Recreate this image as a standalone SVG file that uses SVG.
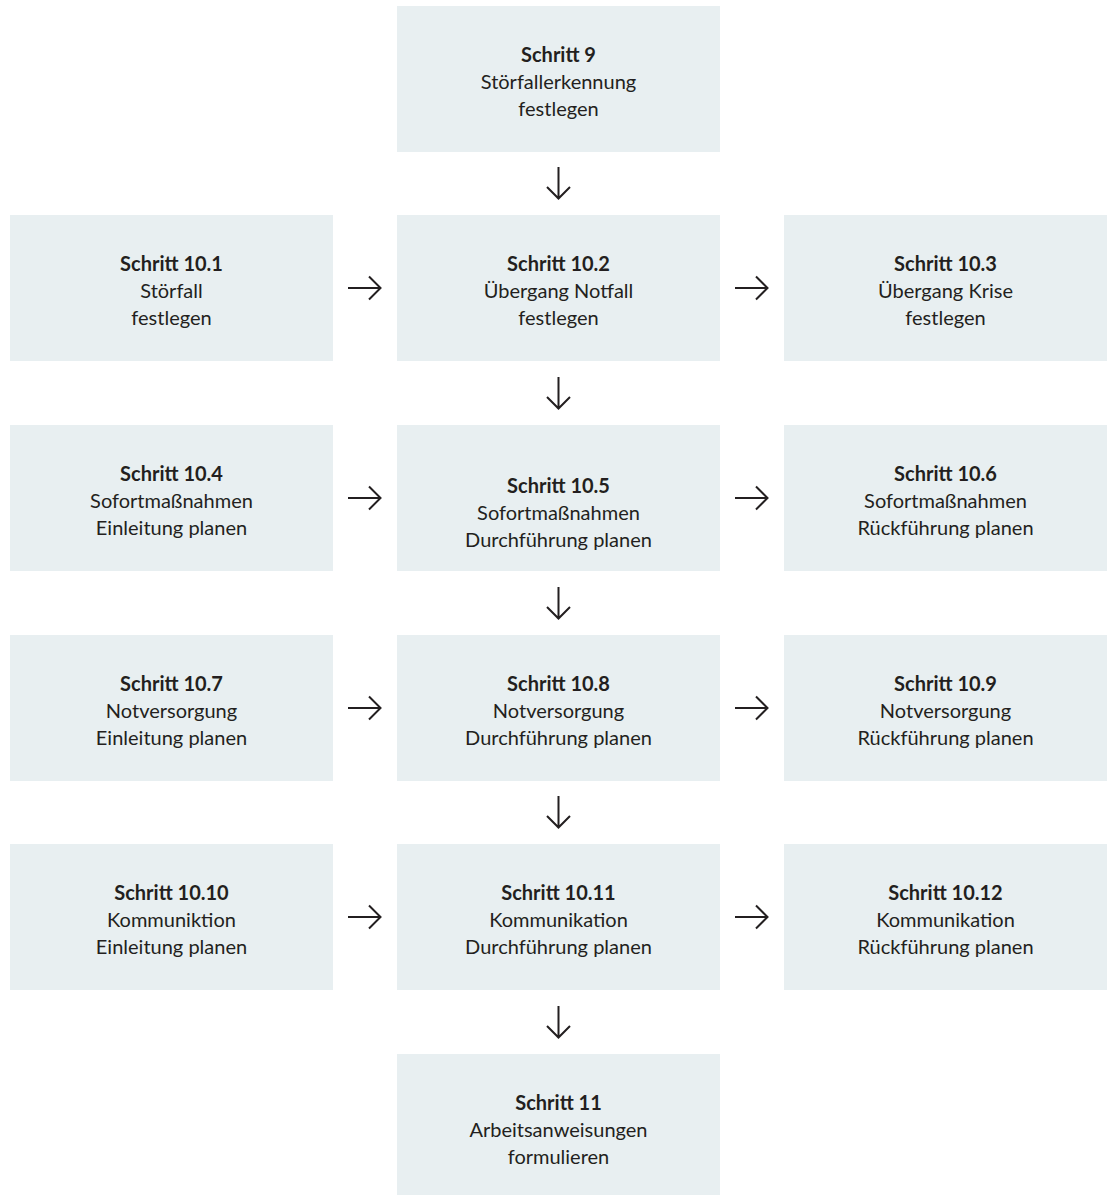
<svg xmlns="http://www.w3.org/2000/svg" width="1114" height="1195" viewBox="0 0 1114 1195">
  <defs>
    <style>
      .box { fill: #e8eff1; }
      .t { font-family: Lato, "Open Sans", sans-serif; font-size: 20px; fill: #231f20; text-anchor: middle; }
      .b { font-weight: 700; }
      .arr { fill: none; stroke: #231f20; stroke-width: 2; stroke-linecap: butt; stroke-linejoin: miter; }
    </style>
  </defs>
  <rect width="1114" height="1195" fill="#ffffff"/>

  <!-- Step 9 -->
  <g id="s9">
    <rect class="box" x="397" y="6" width="323" height="146"/>
    <text class="t b" x="558.5" y="62">Schritt 9</text>
    <text class="t" x="558.5" y="89">Störfallerkennung</text>
    <text class="t" x="558.5" y="116">festlegen</text>
  </g>

  <!-- Row 10.1 - 10.3 -->
  <g id="s10_1">
    <rect class="box" x="10" y="215" width="323" height="146"/>
    <text class="t b" x="171.5" y="271">Schritt 10.1</text>
    <text class="t" x="171.5" y="298">Störfall</text>
    <text class="t" x="171.5" y="325">festlegen</text>
  </g>
  <g id="s10_2">
    <rect class="box" x="397" y="215" width="323" height="146"/>
    <text class="t b" x="558.5" y="271">Schritt 10.2</text>
    <text class="t" x="558.5" y="298">Übergang Notfall</text>
    <text class="t" x="558.5" y="325">festlegen</text>
  </g>
  <g id="s10_3">
    <rect class="box" x="784" y="215" width="323" height="146"/>
    <text class="t b" x="945.5" y="271">Schritt 10.3</text>
    <text class="t" x="945.5" y="298">Übergang Krise</text>
    <text class="t" x="945.5" y="325">festlegen</text>
  </g>

  <!-- Row 10.4 - 10.6 -->
  <g id="s10_4">
    <rect class="box" x="10" y="425" width="323" height="146"/>
    <text class="t b" x="171.5" y="481">Schritt 10.4</text>
    <text class="t" x="171.5" y="508">Sofortmaßnahmen</text>
    <text class="t" x="171.5" y="535">Einleitung planen</text>
  </g>
  <g id="s10_5">
    <rect class="box" x="397" y="425" width="323" height="146"/>
    <text class="t b" x="558.5" y="493">Schritt 10.5</text>
    <text class="t" x="558.5" y="520">Sofortmaßnahmen</text>
    <text class="t" x="558.5" y="547">Durchführung planen</text>
  </g>
  <g id="s10_6">
    <rect class="box" x="784" y="425" width="323" height="146"/>
    <text class="t b" x="945.5" y="481">Schritt 10.6</text>
    <text class="t" x="945.5" y="508">Sofortmaßnahmen</text>
    <text class="t" x="945.5" y="535">Rückführung planen</text>
  </g>

  <!-- Row 10.7 - 10.9 -->
  <g id="s10_7">
    <rect class="box" x="10" y="635" width="323" height="146"/>
    <text class="t b" x="171.5" y="691">Schritt 10.7</text>
    <text class="t" x="171.5" y="718">Notversorgung</text>
    <text class="t" x="171.5" y="745">Einleitung planen</text>
  </g>
  <g id="s10_8">
    <rect class="box" x="397" y="635" width="323" height="146"/>
    <text class="t b" x="558.5" y="691">Schritt 10.8</text>
    <text class="t" x="558.5" y="718">Notversorgung</text>
    <text class="t" x="558.5" y="745">Durchführung planen</text>
  </g>
  <g id="s10_9">
    <rect class="box" x="784" y="635" width="323" height="146"/>
    <text class="t b" x="945.5" y="691">Schritt 10.9</text>
    <text class="t" x="945.5" y="718">Notversorgung</text>
    <text class="t" x="945.5" y="745">Rückführung planen</text>
  </g>

  <!-- Row 10.10 - 10.12 -->
  <g id="s10_10">
    <rect class="box" x="10" y="844" width="323" height="146"/>
    <text class="t b" x="171.5" y="900">Schritt 10.10</text>
    <text class="t" x="171.5" y="927">Kommuniktion</text>
    <text class="t" x="171.5" y="954">Einleitung planen</text>
  </g>
  <g id="s10_11">
    <rect class="box" x="397" y="844" width="323" height="146"/>
    <text class="t b" x="558.5" y="900">Schritt 10.11</text>
    <text class="t" x="558.5" y="927">Kommunikation</text>
    <text class="t" x="558.5" y="954">Durchführung planen</text>
  </g>
  <g id="s10_12">
    <rect class="box" x="784" y="844" width="323" height="146"/>
    <text class="t b" x="945.5" y="900">Schritt 10.12</text>
    <text class="t" x="945.5" y="927">Kommunikation</text>
    <text class="t" x="945.5" y="954">Rückführung planen</text>
  </g>

  <!-- Step 11 -->
  <g id="s11">
    <rect class="box" x="397" y="1054" width="323" height="146"/>
    <text class="t b" x="558.5" y="1110">Schritt 11</text>
    <text class="t" x="558.5" y="1137">Arbeitsanweisungen</text>
    <text class="t" x="558.5" y="1164">formulieren</text>
  </g>

  <!-- Connectors: open chevron arrows -->
  <g id="connectors" class="arr">
    <!-- vertical, centre column -->
    <path d="M558.5 167 V198 M547 187 L558.5 198.5 L570 187"/>
    <path d="M558.5 377 V408 M547 397 L558.5 408.5 L570 397"/>
    <path d="M558.5 587 V618 M547 607 L558.5 618.5 L570 607"/>
    <path d="M558.5 796 V827 M547 816 L558.5 827.5 L570 816"/>
    <path d="M558.5 1006 V1037 M547 1026 L558.5 1037.5 L570 1026"/>
    <!-- horizontal, left to centre -->
    <path d="M348 288 H380 M369 276.5 L380.5 288 L369 299.5"/>
    <path d="M348 498 H380 M369 486.5 L380.5 498 L369 509.5"/>
    <path d="M348 708 H380 M369 696.5 L380.5 708 L369 719.5"/>
    <path d="M348 917 H380 M369 905.5 L380.5 917 L369 928.5"/>
    <!-- horizontal, centre to right -->
    <path d="M735 288 H767 M756 276.5 L767.5 288 L756 299.5"/>
    <path d="M735 498 H767 M756 486.5 L767.5 498 L756 509.5"/>
    <path d="M735 708 H767 M756 696.5 L767.5 708 L756 719.5"/>
    <path d="M735 917 H767 M756 905.5 L767.5 917 L756 928.5"/>
  </g>
</svg>
